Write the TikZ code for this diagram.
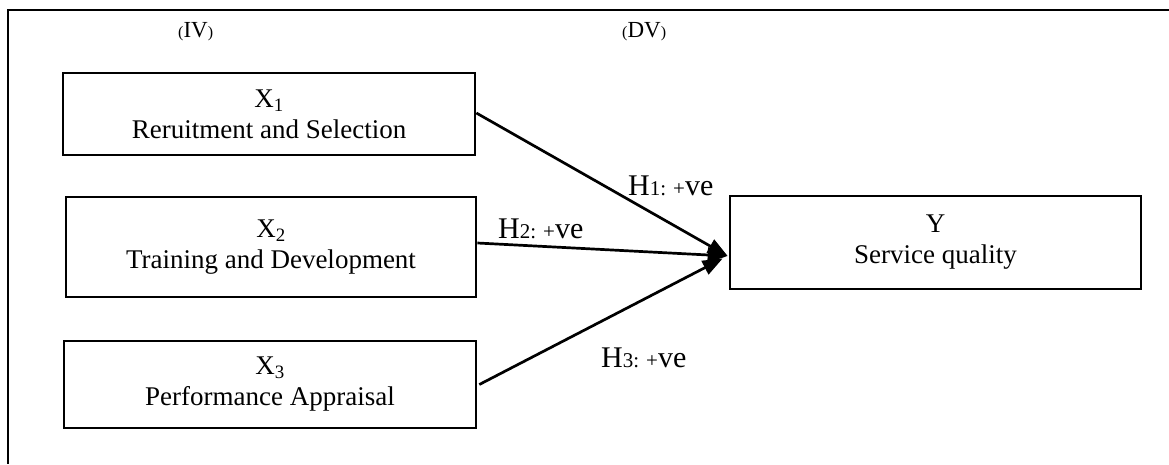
\documentclass[tikz,border=0pt]{standalone}
\usepackage{fontspec}
\setmainfont{Liberation Serif}
\usetikzlibrary{arrows.meta,calc}
\newcommand{\bigtxt}{\fontsize{27}{31}\selectfont}
\newcommand{\hlab}[1]{{\fontsize{30}{30}\selectfont H}{\fontsize{21}{21}\selectfont #1: +}{\fontsize{30}{30}\selectfont ve}}
\newcommand{\varlab}[1]{{\fontsize{16}{16}\selectfont(}{\fontsize{23}{23}\selectfont #1}{\fontsize{16}{16}\selectfont)}}
\begin{document}
\begin{tikzpicture}[x=1pt,y=-1pt,
  varbox/.style={draw,line width=2.7pt,inner sep=0pt,align=center,font=\bigtxt},
  link/.style={line width=2.7pt,-{Triangle[length=20pt,width=15pt]}},
  hyp/.style={anchor=base west,inner sep=0pt},
  frame/.style={line width=2.7pt}]
\useasboundingbox (0,0) rectangle (1169,464);
\draw[frame] (1169,10) -- (8,10) -- (8,464);
\node[hyp] (iv) at (178,37) {\varlab{IV}};
\node[hyp] (dv) at (622,37) {\varlab{DV}};
\node[varbox,minimum width=412pt,minimum height=82pt] (x1) at (269,114) {X\textsubscript{1}\\Reruitment and Selection};
\node[varbox,minimum width=410pt,minimum height=100pt] (x2) at (271,247) {X\textsubscript{2}\\Training and Development};
\node[varbox,minimum width=412pt,minimum height=87pt] (x3) at (270,384.5) {X\textsubscript{3}\\Performance Appraisal};
\node[varbox,minimum width=411pt,minimum height=93pt] (y) at (935.5,242.5) {Y\\Service quality};
\coordinate (tip) at ($(y.west)+(-1,13.5)$);
\coordinate (tip3) at ($(y.west)+(-6,16)$);
\draw[link] ($(x1.east)+(0,-1)$) -- (tip);
\draw[link] ($(x2.east)+(0,-4)$) -- (tip);
\draw[link] ($(x3.east)+(2,0)$) -- (tip3);
\node[hyp] (h1) at (628,195) {\hlab{1}};
\node[hyp] (h2) at (498,238) {\hlab{2}};
\node[hyp] (h3) at (601,367) {\hlab{3}};
\end{tikzpicture}
\end{document}
